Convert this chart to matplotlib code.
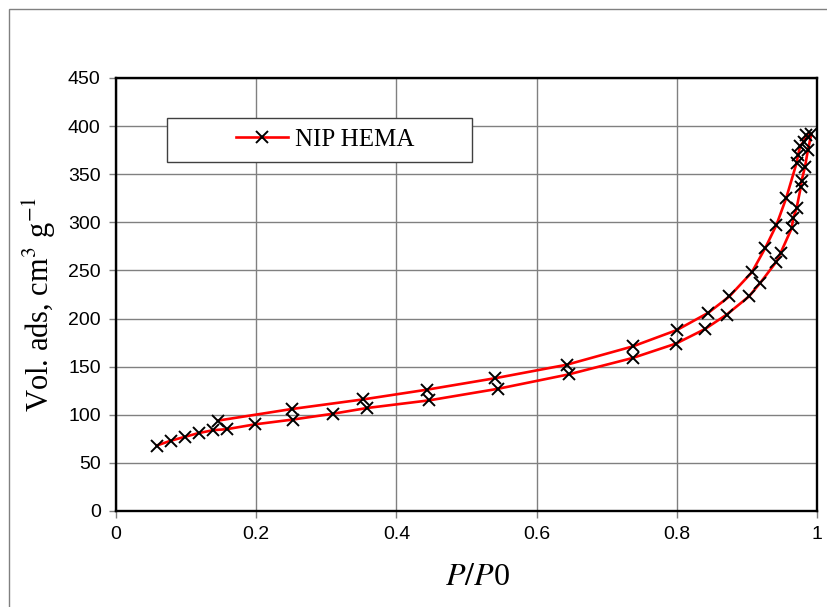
import matplotlib.pyplot as plt
from matplotlib.patches import Rectangle
from matplotlib.ticker import FuncFormatter

# adsorption branch (lower) then desorption branch (upper)
ads_x = [0.058, 0.078, 0.098, 0.118, 0.139, 0.158, 0.198, 0.252, 0.309, 0.358,
         0.447, 0.545, 0.646, 0.737, 0.799, 0.840, 0.871, 0.903, 0.919, 0.942,
         0.948, 0.964, 0.966, 0.971, 0.977, 0.978, 0.983, 0.987, 0.992]
ads_y = [68, 73, 77, 81, 84, 85, 90, 95, 101, 107,
         115, 127, 142, 159, 174, 189, 204, 223, 237, 259,
         268, 294, 304, 315, 337, 343, 358, 375, 392]
des_x = [0.985, 0.981, 0.976, 0.973, 0.971, 0.956, 0.942, 0.926, 0.907, 0.875,
         0.845, 0.800, 0.737, 0.643, 0.541, 0.443, 0.353, 0.251, 0.146]
des_y = [391, 384, 379, 370, 362, 325, 297, 273, 248, 223,
         206, 188, 171, 152, 138, 126, 116, 106, 94]
series_name = 'NIP HEMA'

x = ads_x + des_x
y = ads_y + des_y

fig = plt.figure(figsize=(8.28, 6.07), dpi=100)
ax = fig.add_axes([0.1401, 0.1582, 0.8466, 0.7133])

ax.plot(x, y, color='red', lw=1.9, marker='x', ms=9, mec='black', mew=1.4,
        label=series_name, zorder=3)

ax.set_xlim(0, 1)
ax.set_ylim(0, 450)
ax.set_xticks([0, 0.2, 0.4, 0.6, 0.8, 1])
ax.set_yticks(range(0, 451, 50))
ax.xaxis.set_major_formatter(FuncFormatter(lambda v, p: '%g' % v))
ax.grid(True, color='#808080', lw=1)
ax.set_axisbelow(True)
ax.tick_params(direction='out', length=5, width=1, color='#808080',
               labelsize=14, pad=6)
for lab in ax.get_xticklabels() + ax.get_yticklabels():
    lab.set_family('Liberation Sans')
for s in ax.spines.values():
    s.set_linewidth(1.7)
    s.set_color('black')

ax.set_xlabel('$P/P$0', fontsize=23, family='Liberation Serif',
              math_fontfamily='stix')
ax.xaxis.set_label_coords(0.515, -0.12)
ax.set_ylabel('Vol. ads, cm$^{3}$ g$^{-1}$', fontsize=22, family='Liberation Serif',
              math_fontfamily='stix')
ax.yaxis.set_label_coords(-0.083, 0.478)

# legend box
ax.add_patch(Rectangle((0.0728, 0.806), 0.435, 0.1016, transform=ax.transAxes,
                       facecolor='white', edgecolor='#404040', lw=1, zorder=4))
leg = ax.legend(loc='center left', bbox_to_anchor=(0.171, 0.857), frameon=False,
                borderpad=0, borderaxespad=0, handlelength=2.1, handletextpad=0.25,
                prop={'family': 'Liberation Serif', 'size': 18})
leg.set_zorder(5)

# outer chart border
fig.patches.append(Rectangle((0.0109, -0.02), 1.1, 1.005, transform=fig.transFigure,
                             fill=False, edgecolor='#808080', lw=1))

fig.savefig('out.png', dpi=100)
